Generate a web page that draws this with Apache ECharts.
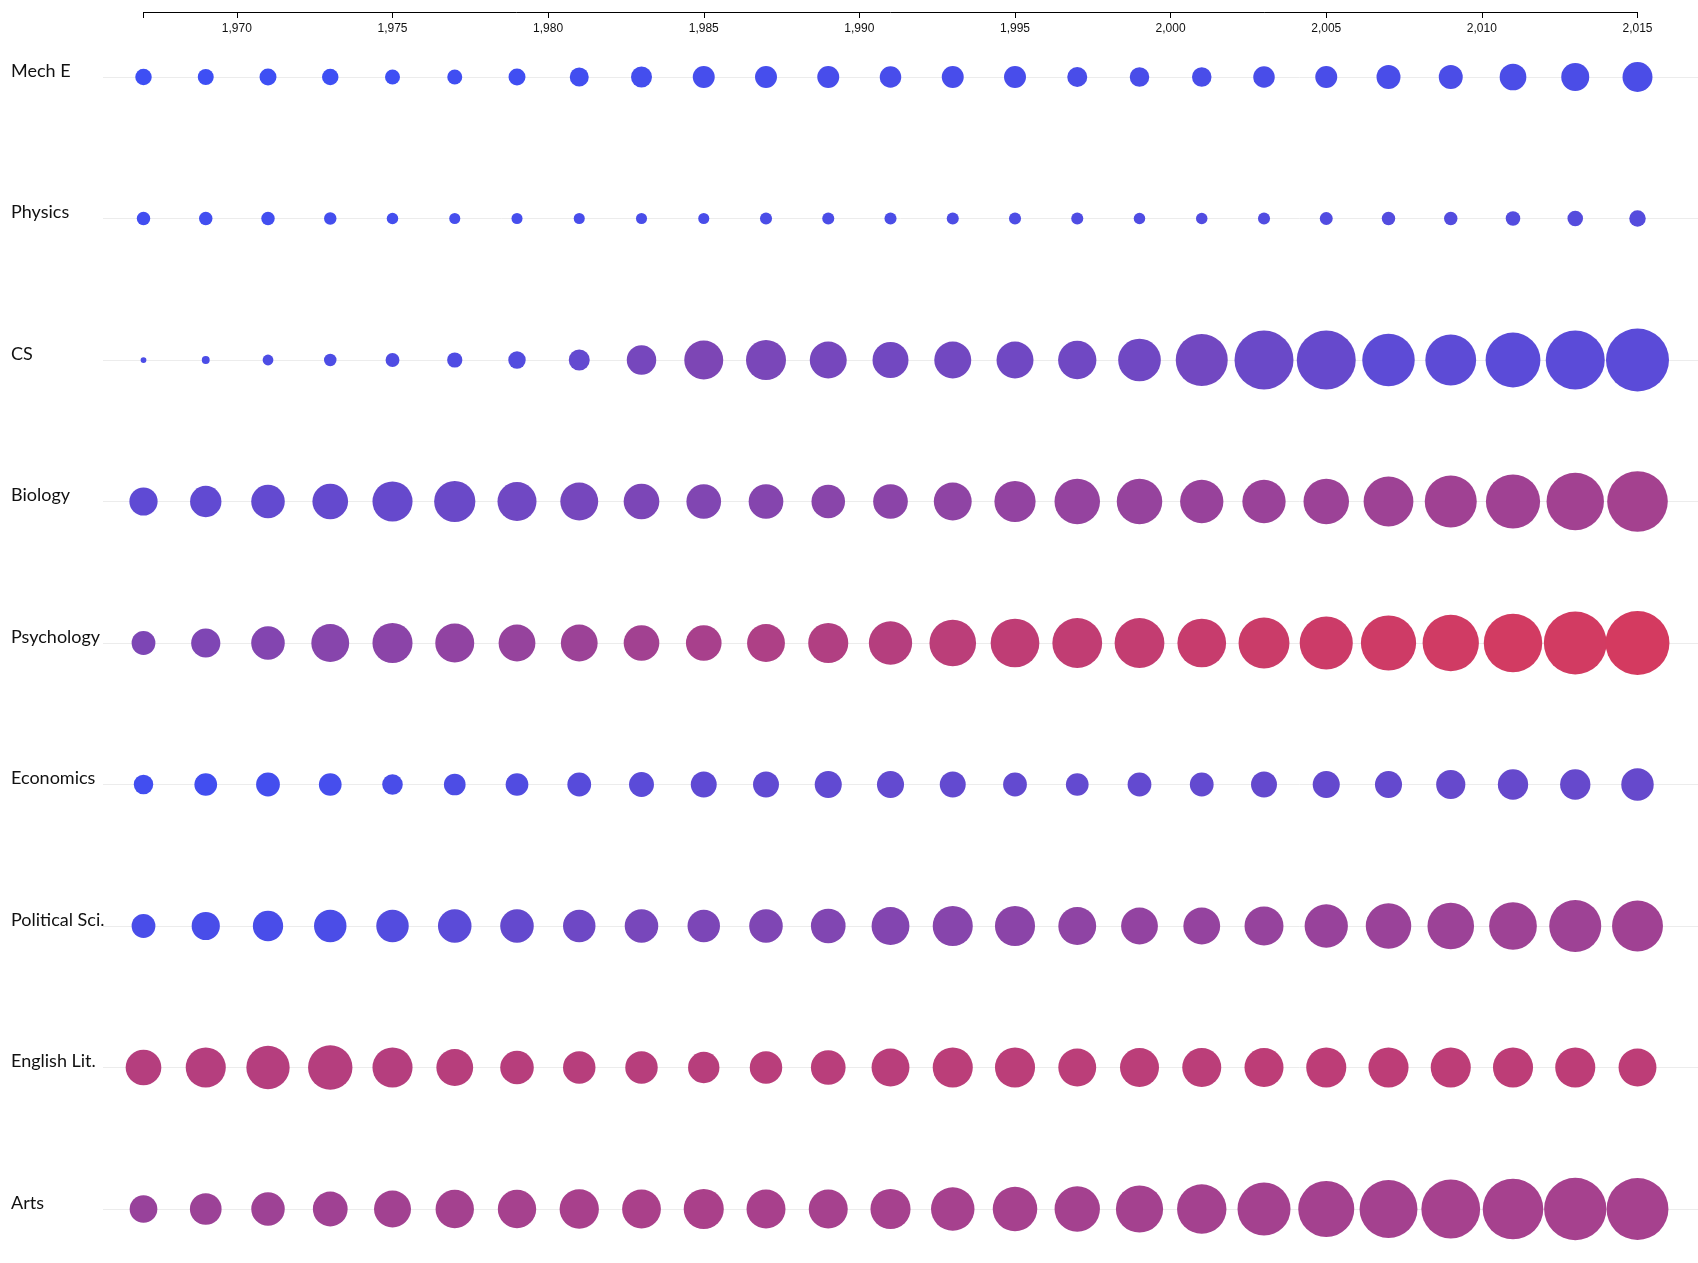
<!DOCTYPE html>
<html>
<head>
<meta charset="utf-8">
<script src="https://cdn.jsdelivr.net/npm/echarts@6/dist/echarts.min.js"></script>
<style>
html,body{margin:0;padding:0;background:#fff;}
#chart{width:1698px;height:1263px;}
</style>
</head>
<body>
<div id="chart"></div>
<script>
// ---- data ----
const years = [1967,1969,1971,1973,1975,1977,1979,1981,1983,1985,1987,1989,1991,1993,1995,1997,1999,2001,2003,2005,2007,2009,2011,2013,2015];
const tickYears = [1967,1970,1975,1980,1985,1990,1995,2000,2005,2010,2015];
const labelYears = [1970,1975,1980,1985,1990,1995,2000,2005,2010,2015];
const fields = ["Mech E","Physics","CS","Biology","Psychology","Economics","Political Sci.","English Lit.","Arts"];

// degrees awarded (thousands, estimated from circle area)
const mechE     = [8.2,7.7,8.7,8.2,6.8,6.8,8.7,10.9,13.3,14.6,14.6,14.6,14.0,14.6,14.6,12.1,11.5,11.5,14.0,14.6,17.4,17.4,21.6,23.7,27.2];
const physics   = [5.5,5.5,5.5,4.7,4.0,3.7,3.7,3.7,3.7,3.7,4.4,4.4,4.4,4.4,4.4,4.4,4.0,4.0,4.4,5.1,5.5,5.5,6.4,7.3,8.2];
const cs        = [1.0,1.9,3.5,4.7,5.8,7.0,9.2,13.3,26.3,46.0,48.4,41.4,39.2,41.4,41.4,44.4,55.1,81.8,105.3,105.3,83.4,78.1,90.8,105.3,120.1];
const biology   = [24.1,29.8,34.1,38.5,48.6,51.3,46.0,43.4,38.5,36.4,36.4,34.1,36.4,43.4,51.3,62.6,62.6,56.7,56.7,62.6,75.0,81.8,88.9,99.7,111.1];
const psychology= [17.1,25.8,34.1,43.4,48.6,46.0,41.0,41.0,38.5,38.5,43.4,48.6,56.7,65.7,71.7,75.0,75.0,71.7,78.4,85.3,92.2,95.9,103.5,119.3,123.5];
const economics = [11.5,15.6,17.1,15.6,12.8,14.2,15.6,17.1,18.8,20.4,20.4,22.2,22.2,20.4,17.1,15.6,17.1,17.1,20.4,22.2,22.2,25.8,27.8,27.8,31.9];
const polisci   = [17.1,24.1,27.8,31.9,31.9,34.1,34.1,31.9,34.1,31.9,34.1,36.4,43.4,48.6,48.6,43.4,41.0,41.0,46.0,56.7,62.6,65.7,68.8,81.8,78.4];
const english   = [38.5,48.6,56.7,59.6,48.6,41.0,34.1,31.9,31.9,29.8,31.9,36.4,43.4,48.6,48.6,43.4,46.0,46.0,46.0,48.6,48.6,48.6,48.6,48.6,43.4];
const arts      = [23.2,30.4,33.9,36.6,41.4,44.6,44.6,46.7,45.5,48.6,46.0,46.0,48.6,57.2,59.9,62.3,67.4,73.8,85.0,94.9,101.4,104.6,111.1,117.4,115.9];

// share of women (%) estimated from colour
const mechEW     = [1,1,1,1,1,2,2,3,4,5,5,6,6,6,6,7,7,7,7,7,7,8,8,8,8];
const physicsW   = [3,3,3,4,4,5,5,6,7,7,8,8,8,9,9,10,10,11,11,11,12,12,12,13,13];
const csW        = [8,8,9,9,10,10,12,20,30,34,32,30,28,28,27,27,27,28,24,22,17,17,16,16,16];
const biologyW   = [18,19,20,21,22,24,27,30,33,36,38,40,41,43,45,46,47,48,49,50,51,52,52,53,54];
const psychologyW= [34,35,37,39,41,44,47,50,53,56,59,61,63,66,68,69,70,72,74,75,76,77,78,78,79];
const economicsW = [3,3,4,5,7,9,11,14,16,18,19,19,20,20,20,20,20,20,21,21,21,22,22,22,22];
const polisciW   = [7,7,7,8,12,16,21,26,31,33,35,36,37,39,41,43,45,46,47,48,49,50,51,51,52];
const englishW   = [63,63,63,63,63,64,64,64,64,64,65,65,65,66,66,66,66,66,67,67,67,67,67,67,67];
const artsW      = [48,50,51,52,53,54,55,56,57,57,56,55,55,55,55,54,54,54,54,54,54,55,55,55,55];

const sizes  = [mechE,physics,cs,biology,psychology,economics,polisci,english,arts];
const shares = [mechEW,physicsW,csW,biologyW,psychologyW,economicsW,polisciW,englishW,artsW];

// ---- chart ----
const chart = echarts.init(document.getElementById('chart'), null, {renderer:'canvas'});
const K = 5.75;
const series = fields.map((f, i) => ({
  name: f,
  type: 'scatter',
  xAxisIndex: 0,
  yAxisIndex: 0,
  data: years.map((y, j) => [y, i, sizes[i][j], shares[i][j]]),
  symbol: 'circle',
  symbolSize: d => K * Math.sqrt(d[2]),
  itemStyle: {opacity: 1},
  z: 3,
  silent: true
}));

const fmt = v => String(v).replace(/\B(?=(\d{3})+(?!\d))/g, ',');

chart.setOption({
  animation: false,
  backgroundColor: '#ffffff',
  grid: [
    {left: 143.5, right: 60.5, top: 77, bottom: 54},
    {left: 103, right: 0, top: 77, bottom: 54}
  ],
  xAxis: [
    {
      gridIndex: 0, type: 'value', min: 1967, max: 2015, position: 'top', offset: 65,
      axisLine: {show: true, lineStyle: {color: '#000', width: 1}},
      axisTick: {show: true, inside: true, length: 6, lineStyle: {color: '#000'}, customValues: tickYears},
      axisLabel: {show: true, inside: true, margin: 11, fontFamily: 'Liberation Sans', fontSize: 12, color: '#111',
                  customValues: labelYears, formatter: v => fmt(v)},
      splitLine: {show: false}
    },
    {gridIndex: 1, type: 'value', min: 0, max: 1, show: false}
  ],
  yAxis: [
    {gridIndex: 0, type: 'category', data: fields, inverse: true, boundaryGap: false, show: false},
    {
      gridIndex: 1, type: 'category', data: fields, inverse: true, boundaryGap: false,
      axisLine: {show: false}, axisTick: {show: false},
      axisLabel: {show: true, align: 'left', verticalAlign: 'bottom', lineHeight: 12, margin: 92,
                  fontFamily: 'Lato', fontSize: 18, color: '#111'},
      splitLine: {show: true, lineStyle: {color: '#ececec', width: 1}}
    }
  ],
  visualMap: {
    show: false, type: 'continuous', dimension: 3, min: 0, max: 80, seriesIndex: series.map((s, i) => i),
    inRange: {color: ['#3c4ff6', '#d63a5e']}
  },
  series: series
});
</script>
</body>
</html>
